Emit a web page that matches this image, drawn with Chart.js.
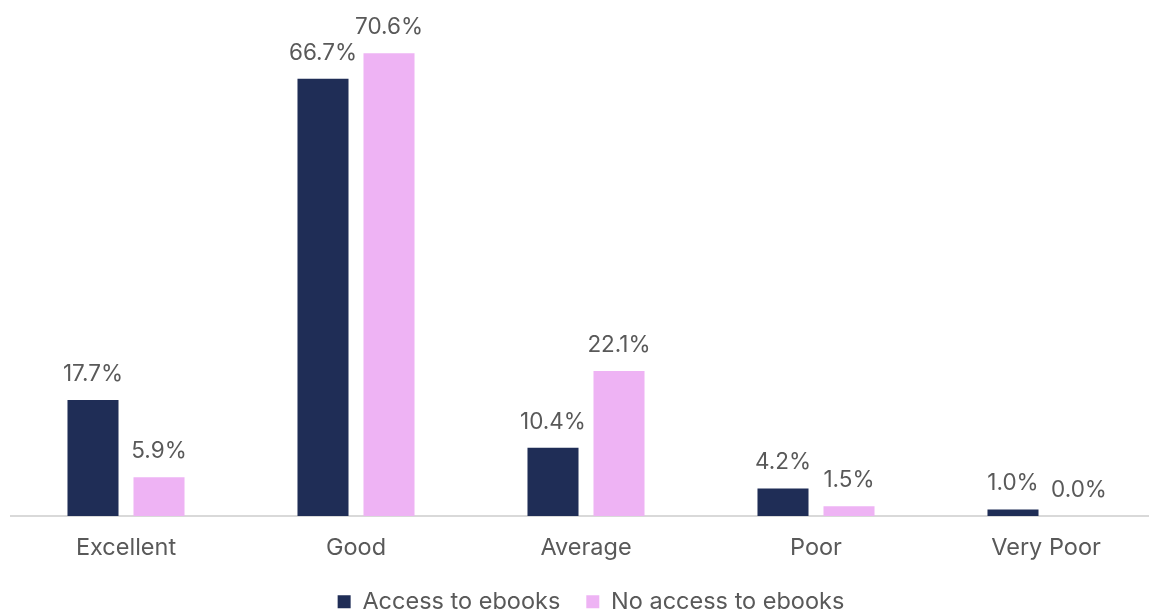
<!DOCTYPE html>
<html>
<head>
<meta charset="utf-8">
<script src="https://cdn.jsdelivr.net/npm/chart.js@4/dist/chart.umd.min.js"></script>
<style>
  html, body { margin: 0; padding: 0; background: #ffffff; overflow: hidden; }
  #wrap { width: 1182px; height: 612px; }
</style>
</head>
<body>
<div id="wrap"><canvas id="ratingChart" width="1182" height="612"></canvas></div>
<script>
// Rating categories and the share of respondents per group (%)
const categories = ['Excellent', 'Good', 'Average', 'Poor', 'Very Poor'];
const accessValues = [17.7, 66.7, 10.4, 4.2, 1.0];
const noAccessValues = [5.9, 70.6, 22.1, 1.5, 0.0];
const seriesNames = ['Access to ebooks', 'No access to ebooks'];

const navy = '#1f2d56';
const pink = '#eeb3f4';
const textColor = '#595959';
const fontFamily = 'Inter, "Open Sans", sans-serif';

// Draws the percentage above each bar
const valueLabels = {
  id: 'valueLabels',
  afterDatasetsDraw(chart) {
    const ctx = chart.ctx;
    ctx.save();
    ctx.font = `22.5px ${fontFamily}`;
    ctx.fillStyle = textColor;
    ctx.textAlign = 'center';
    ctx.textBaseline = 'middle';
    chart.data.datasets.forEach((ds, i) => {
      chart.getDatasetMeta(i).data.forEach((bar, j) => {
        ctx.fillText(ds.data[j].toFixed(1) + '%', bar.x, bar.y - 26);
      });
    });
    ctx.restore();
  }
};

// Legend sits a little right of the plot centre
const legendNudge = {
  id: 'legendNudge',
  afterLayout(chart) {
    chart.legend.left += 5;
    chart.legend.right += 5;
  }
};

const ctx = document.getElementById('ratingChart').getContext('2d');
new Chart(ctx, {
  type: 'bar',
  data: {
    labels: categories,
    datasets: [
      { label: seriesNames[0], data: accessValues, backgroundColor: navy },
      { label: seriesNames[1], data: noAccessValues, backgroundColor: pink }
    ]
  },
  options: {
    responsive: false,
    animation: false,
    datasets: {
      bar: { categoryPercentage: 0.574, barPercentage: 0.773 }
    },
    layout: {
      padding: { left: 11, right: 21, top: 44, bottom: -11.5 }
    },
    scales: {
      x: {
        grid: { display: false, drawTicks: false },
        border: { display: true, color: '#d9d9d9', width: 2 },
        ticks: {
          padding: 18,
          color: textColor,
          font: { family: fontFamily, size: 23.5 }
        },
        // fixed band for the category labels
        afterFit(scale) {
          scale.height = 48;
        }
      },
      y: {
        display: false,
        min: 0,
        max: 72
      }
    },
    plugins: {
      legend: {
        position: 'bottom',
        labels: {
          boxWidth: 13,
          boxHeight: 13,
          padding: 26,
          color: textColor,
          font: { family: fontFamily, size: 23.5 }
        }
      },
      tooltip: { enabled: false }
    }
  },
  plugins: [valueLabels, legendNudge]
});
</script>
</body>
</html>
